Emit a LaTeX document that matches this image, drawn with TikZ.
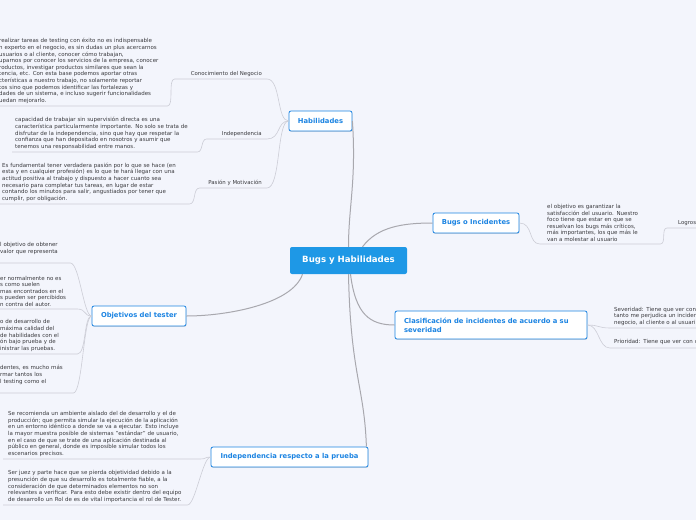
\documentclass[tikz,border=0pt]{standalone}
\usepackage{fontspec}
\setmainfont{DejaVu Sans}
\usepackage{xcolor}
\usetikzlibrary{positioning,shadows}

\definecolor{mapbg}{RGB}{243,245,252}
\definecolor{mapblue}{RGB}{28,132,226}
\definecolor{centralblue}{RGB}{30,152,230}
\definecolor{leaftext}{RGB}{58,58,62}
\definecolor{mainline}{RGB}{168,168,174}
\definecolor{subline}{RGB}{204,205,214}

\begin{document}
\begin{tikzpicture}[x=1pt, y=-1pt,
    central/.style={fill=centralblue, text=white, rounded corners=2pt, font=\fontsize{8.6}{10}\selectfont\bfseries, minimum width=117pt, minimum height=27pt, inner sep=2pt},
    topic/.style={draw=mapblue, fill=white, text=mapblue, line width=0.8pt, rounded corners=2pt, font=\fontsize{6.8}{9}\selectfont\bfseries, minimum height=20pt, inner sep=2pt, drop shadow={shadow xshift=0.4pt, shadow yshift=-0.9pt, opacity=0.25}},
    sublabel/.style={font=\fontsize{5.4}{6.6}\selectfont, text=leaftext, text width=#1, align=right, inner xsep=5pt, inner ysep=2pt, anchor=south east},
    leaf/.style={font=\fontsize{5.5}{6.6}\selectfont, text=leaftext, text width=#1, align=left, inner xsep=0pt, inner ysep=2.3pt, anchor=south west},
    main_link/.style={draw=mainline, line width=1pt},
    sub_link/.style={draw=subline, line width=0.6pt}
]
    % canvas
    \useasboundingbox (0,0) rectangle (696,520);
    \clip (0,0) rectangle (696,520);
    \fill[mapbg] (0,0) rectangle (696,520);

    % --- central topic and main topics ---
    \node[central] (central) at (348.5,260.5) {Bugs y Habilidades};
    \node[topic, minimum width=63pt] (hab) at (320.5,121) {Habilidades};
    \node[topic, minimum width=86pt] (bugs) at (476,223) {Bugs o Incidentes};
    \node[topic, minimum width=94pt] (obj_tester) at (139,316) {Objetivos del tester};
    \node[topic, minimum height=28pt, text width=174pt, align=left, inner xsep=9pt] (clasif) at (491,325) {Clasificación de incidentes de acuerdo a su\\severidad};
    \node[topic, minimum width=157pt] (indep_prueba) at (289.5,457) {Independencia respecto a la prueba};

    \draw[main_link] (central.north) .. controls +(0,-40) and +(4,60) .. (hab.east);
    \draw[main_link] ([xshift=14pt]central.north) .. controls +(15,-20) and +(-30,0) .. (bugs.west);
    \draw[main_link] ([xshift=2pt]central.south) .. controls +(5,40) and +(-25,0) .. (clasif.west);
    \draw[main_link] (central.south) .. controls +(2,100) and +(-2,-60) .. ([xshift=-2pt]indep_prueba.north east);
    \draw[main_link] ([xshift=-46pt]central.south) .. controls +(-10,30) and +(40,0) .. (obj_tester.east);

    % --- Habilidades ---
    \node[sublabel=82pt] (neg_lab) at (267,79) {Conocimiento del Negocio};
    \node[sublabel=50pt] (ind_lab) at (267,139) {Independencia};
    \node[sublabel=57pt] (pas_lab) at (267,188) {Pasión y Motivación};

    \node[leaf=168pt] (neg_txt) at (-1,106) {realizar tareas de testing con éxito no es indispensable\\
        n experto en el negocio, es sin dudas un plus acercarnos\\
        usuarios o al cliente, conocer cómo trabajan,\\
        uparnos por conocer los servicios de la empresa, conocer\\
        roductos, investigar productos similares que sean la\\
        tencia, etc. Con esta base podemos aportar otras\\
        cterísticas a nuestro trabajo, no solamente reportar\\
        tos sino que podemos identificar las fortalezas y\\
        dades de un sistema, e incluso sugerir funcionalidades\\
        uedan mejorarlo.};
    \node[leaf=179pt, inner xsep=3pt] (ind_txt) at (12,152) {capacidad de trabajar sin supervisión directa es una\\
        característica particularmente importante. No solo se trata de\\
        disfrutar de la independencia, sino que hay que respetar la\\
        confianza que han depositado en nosotros y asumir que\\
        tenemos una responsabilidad entre manos.};
    \node[leaf=185pt, inner xsep=2pt] (pas_txt) at (0,204) {Es fundamental tener verdadera pasión por lo que se hace (en\\
        esta y en cualquier profesión) es lo que te hará llegar con una\\
        actitud positiva al trabajo y dispuesto a hacer cuanto sea\\
        necesario para completar tus tareas, en lugar de estar\\
        contando los minutos para salir, angustiados por tener que\\
        cumplir, por obligación.};

    \draw[sub_link] (neg_txt.south west) -- (neg_txt.south east) .. controls +(7,0) and +(-7,0) .. (neg_lab.south west) -- (neg_lab.south east) .. controls +(14,0) and +(-12,0) .. (hab.west);
    \draw[sub_link] (ind_txt.south west) -- (ind_txt.south east) .. controls +(6,0) and +(-6,0) .. (ind_lab.south west) -- (ind_lab.south east) .. controls +(14,0) and +(-12,0) .. (hab.west);
    \draw[sub_link] (pas_txt.south west) -- (pas_txt.south east) .. controls +(7,0) and +(-7,0) .. (pas_lab.south west) -- (pas_lab.south east) .. controls +(14,0) and +(-12,0) .. (hab.west);

    % --- Bugs o Incidentes ---
    \node[leaf=106pt, inner xsep=7pt] (bug_txt) at (540,244) {el objetivo es garantizar la\\
        satisfacción del usuario. Nuestro\\
        foco tiene que estar en que se\\
        resuelvan los bugs más críticos,\\
        más importantes, los que más le\\
        van a molestar al usuario};
    \node[leaf=40pt, font=\fontsize{5.4}{6.6}\selectfont, inner xsep=11pt, inner ysep=2pt] (logros_lab) at (667,228) {Logros};

    \draw[sub_link] (bugs.east) .. controls +(14,0) and +(-12,0) .. (bug_txt.south west) -- (bug_txt.south east) .. controls +(6,0) and +(-6,0) .. (logros_lab.south west) -- (logros_lab.south east);

    % --- Clasificacion ---
    \node[leaf=100pt, inner xsep=4pt] (sev_txt) at (610,328) {Severidad: Tiene que ver con\\
        tanto me perjudica un inciden\\
        negocio, al cliente o al usuari};
    \node[leaf=100pt, inner xsep=4pt, inner ysep=3pt] (pri_txt) at (610,348) {Prioridad: Tiene que ver con c};

    \draw[sub_link] (clasif.east) .. controls +(12,0) and +(-12,0) .. (sev_txt.south west) -- (sev_txt.south east);
    \draw[sub_link] (clasif.east) .. controls +(12,0) and +(-12,0) .. (pri_txt.south west) -- (pri_txt.south east);

    % --- Objetivos del tester ---
    \node[leaf=70pt, inner ysep=8.5pt] (obj_a) at (0,263) {l objetivo de obtener\\
        valor que representa};
    \node[leaf=77pt] (obj_b) at (0,309) {er normalmente no es\\
        s como suelen\\
        mas encontrados en el\\
        s pueden ser percibidos\\
        n contra del autor.};
    \node[leaf=77pt] (obj_c) at (0,354) {o de desarrollo de\\
        máxima calidad del\\
        de habilidades con el\\
        ón bajo prueba y de\\
        inistrar las pruebas.};
    \node[leaf=73pt, inner ysep=8.5pt] (obj_d) at (0,393) {dentes, es mucho más\\
        rmar tantos los\\
        l testing como el};

    \foreach \leafname in {obj_a,obj_b,obj_c,obj_d}
        \draw[sub_link] (\leafname.south west) -- (\leafname.south east) .. controls +(9,0) and +(-8,0) .. (obj_tester.west);

    % --- Independencia respecto a la prueba ---
    \node[leaf=187pt, inner xsep=5pt] (ip_a) at (3,459) {Se recomienda un ambiente aislado del de desarrollo y el de\\
        producción; que permita simular la ejecución de la aplicación\\
        en un entorno idéntico a donde se va a ejecutar. Esto incluye\\
        la mayor muestra posible de sistemas "estándar" de usuario,\\
        en el caso de que se trate de una aplicación destinada al\\
        público en general, donde es imposible simular todos los\\
        escenarios precisos.};
    \node[leaf=174pt, inner xsep=5pt] (ip_b) at (3,505) {Ser juez y parte hace que se pierda objetividad debido a la\\
        presunción de que su desarrollo es totalmente fiable, a la\\
        consideración de que determinados elementos no son\\
        relevantes a verificar. Para esto debe existir dentro del equipo\\
        de desarrollo un Rol de es de vital importancia el rol de Tester.};

    \draw[sub_link] (ip_a.south west) -- (ip_a.south east) .. controls +(6,0) and +(-6,0) .. (indep_prueba.west);
    \draw[sub_link] (ip_b.south west) -- (ip_b.south east) .. controls +(8,0) and +(-8,0) .. (indep_prueba.west);
\end{tikzpicture}
\end{document}
